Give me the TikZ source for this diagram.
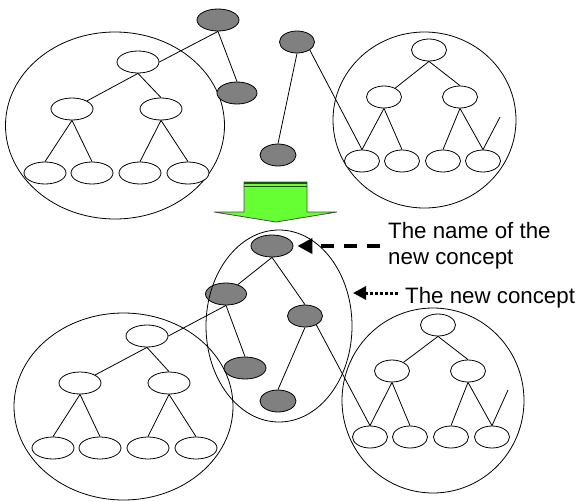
\documentclass[tikz,border=0pt]{standalone}
\usepackage{fontspec}
\setmainfont{Liberation Sans}
\usetikzlibrary{shapes.geometric,arrows.meta}
\definecolor{cgray}{HTML}{808080}
\definecolor{cgreen}{HTML}{66FF33}
\definecolor{cdkgreen}{HTML}{1E4D14}
\begin{document}
\begin{tikzpicture}[x=1pt,y=-1pt,
  wn/.style={ellipse,draw,line width=0.8pt,fill=white,inner sep=0pt,minimum width=42pt,minimum height=22pt},
  wns/.style={wn,minimum width=35pt},
  gn/.style={wn,fill=cgray},
  gns/.style={gn,minimum width=35pt},
  big/.style={ellipse,draw,line width=0.8pt,inner sep=0pt},
  edge/.style={line width=0.8pt},
  lbl/.style={font=\fontsize{22.3}{26.5}\selectfont,inner sep=0pt}
]
\useasboundingbox (0,0) rectangle (576,501);
% big circles
\node[big,minimum width=219pt,minimum height=187pt] (c1) at (115,125.5) {};
\node[big,minimum width=183pt,minimum height=176pt] (c2) at (424.5,120) {};
\node[big,minimum width=219pt,minimum height=187pt] (c3) at (123.5,406.5) {};
\node[big,minimum width=182pt,minimum height=185pt] (c4) at (433,400.5) {};
% top-left tree
\node[wn] (tlT) at (138,62) {};
\node[wn] (tlL) at (72,109) {};
\node[wn] (tlR) at (161,109) {};
\node[wn] (tl1) at (45,173) {};
\node[wn] (tl2) at (92,173) {};
\node[wn] (tl3) at (140,173) {};
\node[wn] (tl4) at (188,173) {};
% top gray nodes
\node[gn] (gT) at (218,20) {};
\node[gn,minimum width=40pt] (g2) at (237,93) {};
\node[gns] (gM) at (297,42) {};
\node[gns,minimum width=36pt] (gB) at (278,155) {};
% top-right tree
\node[wns] (trT) at (429,50) {};
\node[wns] (trL) at (384,97) {};
\node[wns] (trR) at (460,97) {};
\node[wns] (tr1) at (362,161) {};
\node[wns] (tr2) at (402,161) {};
\node[wns] (tr3) at (443,161) {};
\node[wns] (tr4) at (483,161) {};
\coordinate (trX) at (500,117);
% middle
\node[gn] (mT) at (272,246) {};
\node[gn,minimum width=41pt] (mL) at (226,294) {};
\node[gns] (mR) at (305,316) {};
\node[gn] (mLL) at (245,368) {};
\node[gns,minimum width=36pt] (mB) at (278,401) {};
% bottom-left tree
\node[wn] (blT) at (147,336) {};
\node[wn] (blL) at (80,383) {};
\node[wn] (blR) at (169,383) {};
\node[wn] (bl1) at (53,448) {};
\node[wn] (bl2) at (100,448) {};
\node[wn] (bl3) at (148,448) {};
\node[wn] (bl4) at (196,448) {};
% bottom-right tree
\node[wns] (brT) at (438,325) {};
\node[wns] (brL) at (392,371) {};
\node[wns] (brR) at (468,371) {};
\node[wns] (br1) at (370,437) {};
\node[wns] (br2) at (410,437) {};
\node[wns] (br3) at (451,437) {};
\node[wns] (br4) at (492,437) {};
\coordinate (brX) at (508,390);
% connectors
\draw[edge] (gT.south) -- (tlT.east);
\draw[edge] (gT.south) -- (g2.north);
\draw[edge] (gM.south) -- (gB.north);
\draw[edge] (gM.-32) -- (tr1.north);
\draw[edge] (tlT.south) -- (tlL);
\draw[edge] (tlT.south) -- (tlR.north);
\draw[edge] (tlL.south) -- (tl1.north);
\draw[edge] (tlL.south) -- (tl2.north);
\draw[edge] (tlR.south) -- (tl3.north);
\draw[edge] (tlR.south) -- (tl4.north);
\draw[edge] (trT.south) -- (trL);
\draw[edge] (trT.south) -- (trR.north);
\draw[edge] (trL.south) -- (tr1.north);
\draw[edge] (trL.south) -- (tr2.north);
\draw[edge] (trR.south) -- (tr3.north);
\draw[edge] (trR.south) -- (tr4.north);
\draw[edge] (tr4.north) -- (trX);
\draw[edge] (mT.south) -- (mL);
\draw[edge] (mT.south) -- (mR.north);
\draw[edge] (mL.south) -- (mLL.north);
\draw[edge] (mR.south) -- (mB.north);
\draw[edge] (mL.south) -- (blT.east);
\draw[edge] (mR.-38) -- (br1.north);
\draw[edge] (blT.south) -- (blL);
\draw[edge] (blT.south) -- (blR.north);
\draw[edge] (blL.south) -- (bl1.north);
\draw[edge] (blL.south) -- (bl2.north);
\draw[edge] (blR.south) -- (bl3.north);
\draw[edge] (blR.south) -- (bl4.north);
\draw[edge] (brT.south) -- (brL);
\draw[edge] (brT.south) -- (brR.north);
\draw[edge] (brL.south) -- (br1.north);
\draw[edge] (brL.south) -- (br2.north);
\draw[edge] (brR.south) -- (br3.north);
\draw[edge] (brR.south) -- (br4.north);
\draw[edge] (br4.north) -- (brX);
% middle ellipse (drawn over)
\node[big,minimum width=146pt,minimum height=192pt] (cm) at (279,326) {};
% green block arrow
\draw[line width=0.8pt,draw=black!70,fill=cgreen,line join=miter]
  (244,182) -- (307,182) -- (307,212) -- (337,212) -- (276,222) -- (214,212) -- (244,212) -- cycle;
\fill[cdkgreen] (244.4,182.4) rectangle (306.6,184.2);
\fill[cdkgreen] (244.4,185.6) rectangle (306.6,187.4);
% labels and arrows
\node[lbl,anchor=base west] (lab1) at (388,238) {\begin{tabular}[t]{@{}l@{}}The name of the\\new concept\end{tabular}};
\node[lbl,anchor=base west] (lab2) at (405,303) {The new concept};
\coordinate (dashS) at (380,246);
\coordinate (dotS) at (398,293);
\coordinate (dotT) at (353,293);
\draw[line width=4pt,dash pattern=on 13pt off 10pt,shorten >=4pt,-{Triangle[length=15pt,width=15pt]}] (dashS) -- (mT.east);
\draw[line width=3pt,dash pattern=on 3pt off 2pt,-{Triangle[length=13pt,width=13pt]}] (dotS) -- (dotT);
\end{tikzpicture}
\end{document}
